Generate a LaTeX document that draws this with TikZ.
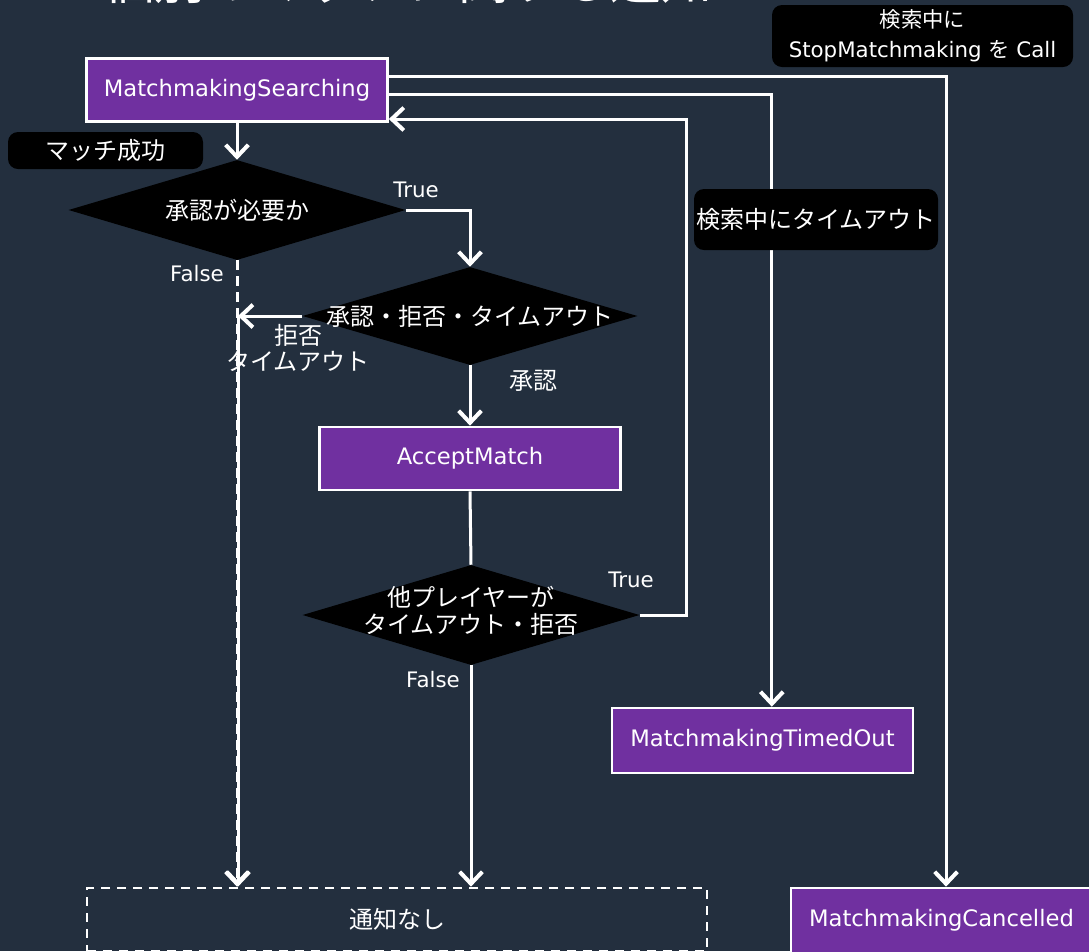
\documentclass[tikz,border=0pt]{standalone}
\usepackage{fontspec}
\setmainfont{DejaVu Sans}
\newfontfamily\jp{Noto Sans CJK JP}
\usetikzlibrary{arrows.meta,shapes.geometric}

\definecolor{bgnavy}{HTML}{232F3E}
\definecolor{boxpurple}{HTML}{7030A0}

\tikzset{
	state/.style={draw=white,fill=boxpurple,line width=2pt,text=white,inner sep=0pt,
		minimum width=225.75pt,minimum height=47.25pt,font=\fontsize{17pt}{20pt}\selectfont},
	decision/.style={diamond,fill=black,inner sep=0pt,minimum width=252.75pt,minimum height=75pt},
	dtext/.style={text=white,align=center,font=\fontsize{18pt}{20pt}\selectfont\jp},
	note/.style={fill=black,rounded corners=7.5pt,text=white,align=center,inner sep=0pt,
		font=\fontsize{16pt}{22.5pt}\selectfont},
	lbl/.style={text=white,align=center,font=\fontsize{16pt}{20pt}\selectfont},
	jlbl/.style={lbl,font=\fontsize{18pt}{20pt}\selectfont\jp},
	flow/.style={draw=white,line width=2.25pt,-{Straight Barb[length=9pt,width=17pt,line width=3pt]}},
	wire/.style={draw=white,line width=2.25pt},
}

\begin{document}
\begin{tikzpicture}[x=0.75pt,y=0.75pt,yscale=-1]
	\clip (0,0) rectangle (1089,951);
	\fill[bgnavy] (0,0) rectangle (1089,951);
	
	%Title (cut at the top)
	\node[text=white,font=\fontsize{38pt}{40pt}\selectfont\jp] (title) at (408,-20) {個別のマッチに関する通知};
	
	%States
	\node[state] (ms) at (237,90) {MatchmakingSearching};
	\node[state] (am) at (470,458.5) {AcceptMatch};
	\node[state,minimum height=48.75pt] (tmo) at (762.5,740.5) {MatchmakingTimedOut};
	\node[state,minimum height=48.75pt] (mc) at (941.5,920.5) {MatchmakingCancelled};
	\node[draw=white,line width=2pt,dash pattern=on 7pt off 5pt,text=white,inner sep=0pt,
		minimum width=465pt,minimum height=47.25pt,font=\fontsize{18pt}{20pt}\selectfont\jp] (nt) at (397,919.5) {通知なし};
	
	%Decisions
	\node[decision] (d1) at (237,210) {};
	\node[dtext] (d1txt) at (d1) {承認が必要か};
	\node[decision,minimum width=251.25pt,minimum height=73.5pt] (d2) at (470,316) {};
	\node[dtext] (d2txt) at (d2) {承認・拒否・タイムアウト};
	\node[decision] (d3) at (471,615) {};
	\node[dtext] (d3txt) at (471,611) {他プレイヤーが\\タイムアウト・拒否};
	
	%Turning points
	\coordinate (rej) at (238,316);
	\coordinate (back) at (686,119);
	
	%Connectors
	\draw[flow] (ms.south) -- (d1.north);
	\draw[flow] (d1.east) -| (d2.north);
	\draw[flow,dash pattern=on 7pt off 5pt] (d1.south) -- (d1.south |- nt.north);
	\draw[flow] (d2.west) -- (rej);
	\draw[flow] (rej) -- (rej |- nt.north);
	\draw[flow] (d2.south) -- (am.north);
	\draw[wire] (am.south) -- (d3.north);
	\draw[flow] (d3.east) -| (back) -- (back -| ms.east);
	\draw[flow] (d3.south) -- (d3.south |- nt.north);
	\draw[flow] ([yshift=3pt]ms.east) -| ([xshift=7pt]tmo.north);
	\draw[flow] ([yshift=-10.5pt]ms.east) -| ([xshift=3.4pt]mc.north);
	
	%Branch labels
	\node[lbl] (t1) at (416,190) {True};
	\node[lbl] (f1) at (197,274) {False};
	\node[jlbl] (rj) at (298,348) {拒否\\タイムアウト};
	\node[jlbl] (ok) at (533,381) {承認};
	\node[lbl] (t2) at (631,580) {True};
	\node[lbl] (f2) at (433,680) {False};
	
	%Notes
	\node[note,minimum width=146.25pt,minimum height=27.75pt,font=\fontsize{18pt}{20pt}\selectfont\jp] (hit) at (105.5,150.5) {マッチ成功};
	\node[note,minimum width=183pt,minimum height=45.75pt,font=\fontsize{18pt}{20pt}\selectfont\jp] (tout) at (816,219.5) {検索中にタイムアウト};
	\node[note,minimum width=225.75pt,minimum height=46.5pt] (stop) at (922.5,36) {{\jp 検索中に}\\StopMatchmaking {\jp を} Call};
	
\end{tikzpicture}
\end{document}
